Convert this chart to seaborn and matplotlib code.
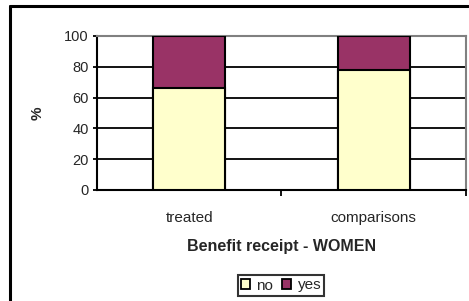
import matplotlib
matplotlib.use("Agg")
import matplotlib.pyplot as plt
from matplotlib.lines import Line2D
from matplotlib.patches import Patch
import seaborn as sns
import pandas as pd

sns.set_style("white")
plt.rcParams['font.family'] = ['Liberation Sans', 'DejaVu Sans']

# data
groups = ["treated", "comparisons"]
no_pct = [66, 78]
yes_pct = [34, 22]
series = ["no", "yes"]
colors = {"no": "#FFFFCC", "yes": "#993366"}

df = pd.DataFrame({"group": groups, "no": no_pct, "yes": yes_pct})
df["total"] = df["no"] + df["yes"]

fig = plt.figure(figsize=(4.69, 3.01), dpi=100)
ax = fig.add_axes([0.2068, 0.3688, 0.7868, 0.5116])

# stacked bars: total (yes colour) behind, then "no" in front
sns.barplot(data=df, x="group", y="total", color=colors["yes"], width=0.39, saturation=1,
            edgecolor="black", linewidth=1.5, ax=ax, zorder=3)
sns.barplot(data=df, x="group", y="no", color=colors["no"], width=0.39, saturation=1,
            edgecolor="black", linewidth=1.5, ax=ax, zorder=4)

ax.set_xlim(-0.5, 1.5)
ax.set_ylim(0, 100)
ax.set_yticks([0, 20, 40, 60, 80, 100])
ax.yaxis.grid(True, color="black", linewidth=1.3, zorder=0)
ax.set_axisbelow(True)

ax.set_ylabel("%", fontsize=11, fontweight="bold", labelpad=14)
ax.set_xlabel("Benefit receipt - WOMEN", fontsize=11.5, fontweight="bold", labelpad=10)

ax.tick_params(axis="y", which="major", direction="out", length=3, width=1.3,
               labelsize=10.5, color="black", left=True, pad=3)
ax.tick_params(axis="x", which="major", length=0, labelsize=11, pad=15)
ax.set_xticks([0.5, 1.5], minor=True)
ax.tick_params(axis="x", which="minor", direction="out", length=4, width=1.3,
               color="black", bottom=True)

for side in ["left", "bottom"]:
    ax.spines[side].set_color("black")
    ax.spines[side].set_linewidth(1.5)
for side in ["top", "right"]:
    ax.spines[side].set_visible(True)
    ax.spines[side].set_color("#808080")
    ax.spines[side].set_linewidth(1.5)

handles = [Patch(facecolor=colors[s], edgecolor="black", linewidth=1.3, label=s) for s in series]
leg = fig.legend(handles=handles, loc="center", bbox_to_anchor=(281 / 469, 1 - 285.5 / 301),
                 ncol=2, frameon=True, fancybox=False, fontsize=11, handlelength=0.6,
                 handleheight=0.6, handletextpad=0.4, columnspacing=0.6,
                 borderpad=0.2, edgecolor="black")
leg.get_frame().set_linewidth(1.5)

# outer chart frame (left and top edges visible)
fig.add_artist(Line2D([10 / 469, 10 / 469], [0, 1 - 5.5 / 301], color="black", linewidth=2.2,
                      transform=fig.transFigure))
fig.add_artist(Line2D([10 / 469, 468 / 469], [1 - 5.5 / 301, 1 - 5.5 / 301], color="black",
                      linewidth=2.2, transform=fig.transFigure))

fig.savefig("out.png", dpi=100)
